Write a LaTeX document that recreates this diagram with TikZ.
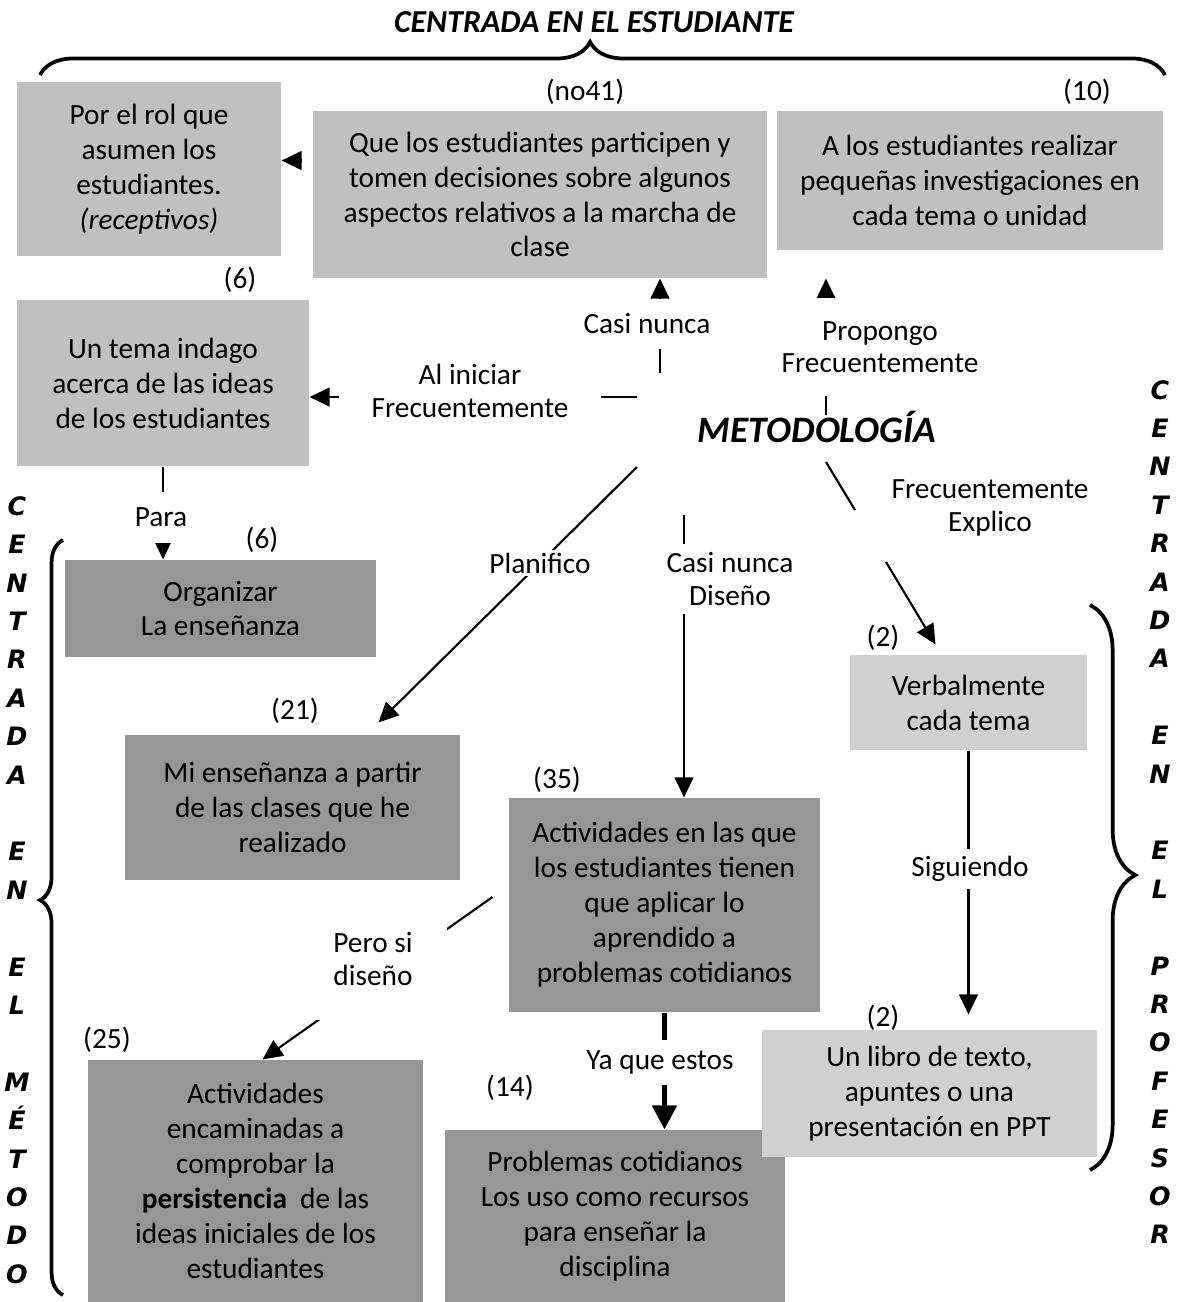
\documentclass[tikz,border=0pt]{standalone}
\usepackage{fontspec}
\setmainfont{Carlito}
\newfontfamily\vertfont{DejaVu Sans}
\usetikzlibrary{
  positioning,
  arrows.meta,
  decorations.pathreplacing}
\newdimen\pxu
\pxu=0.375pt
\definecolor{studentcolor}{RGB}{192,192,192}
\definecolor{methodcolor}{RGB}{150,150,150}
\definecolor{teachercolor}{RGB}{208,208,208}
\tikzset{
  %% box : a text box of the map
  box/.style={
    rectangle,
    inner sep=2pt,
    align=center,
    font=\fontsize{11}{13.1}\selectfont
  },
  %% studentbox : centred on the student
  studentbox/.style={box, fill=studentcolor},
  %% methodbox : centred on the method
  methodbox/.style={box, fill=methodcolor},
  %% teacherbox : centred on the teacher
  teacherbox/.style={box, fill=teachercolor},
  %% lbl : text on a connector, hides the line behind it
  lbl/.style={
    fill=white,
    inner sep=1pt,
    align=center,
    font=\fontsize{11}{12.2}\selectfont
  },
  %% tally : number of answers over a box
  tally/.style={inner sep=1pt, font=\fontsize{11}{13}\selectfont},
  %% conn : connector
  conn/.style={line width=0.8pt, -{Triangle[length=7.5pt,width=7pt]}},
  bigconn/.style={line width=1.9pt, -{Triangle[length=9pt,width=9pt]}},
  %% bigbrace : brace round a group, use as
  %%    \draw [bigbrace=amplitude] (start) -- (end);
  bigbrace/.style={
    decorate,
    decoration={brace, amplitude=#1},
    line width=1.4pt
  },
  %% vert : title written downwards
  vert/.style={
    align=center,
    font=\vertfont\fontsize{9.5}{14.4}\selectfont\bfseries\itshape
  }
}

\begin{document}
\begin{tikzpicture}
  [x=0.375pt,
  y=-0.375pt]
  \useasboundingbox (0,0) rectangle (1182,1302);

  %% Groups
  \node (estudiante) [font=\fontsize{12}{14}\selectfont\bfseries\itshape]
  at (594,22) {CENTRADA EN EL ESTUDIANTE};
  \draw [bigbrace=12.4pt, decoration={aspect=0.489}] (40,75) -- (1165,75);

  \node (metodo) [vert] at (17,890) {%
    C\\E\\N\\T\\R\\A\\D\\A\\~\\E\\N\\~\\E\\L\\~\\M\\É\\T\\O\\D\\O};
  \draw [bigbrace=8.6pt, decoration={aspect=0.523}] (63,1295) -- (63,540);

  \node (profesor) [vert] at (1160,812) {%
    C\\E\\N\\T\\R\\A\\D\\A\\~\\E\\N\\~\\E\\L\\~\\P\\R\\O\\F\\E\\S\\O\\R};
  \draw [bigbrace=17pt, decoration={aspect=0.478}] (1090,605) -- (1090,1170);

  %% Boxes
  \node (rol) [studentbox, minimum width=264\pxu, minimum height=174\pxu]
  at (149,169) {%
    Por el rol que\\ asumen los\\ estudiantes.\\ \textit{(receptivos)}};

  \node (quelos) [studentbox, minimum width=454\pxu, minimum height=167\pxu]
  at (540,194.5) {%
    Que los estudiantes participen y\\
    tomen decisiones sobre algunos\\
    aspectos relativos a la marcha de\\ clase};

  \node (alos) [studentbox, minimum width=386\pxu, minimum height=139\pxu]
  at (970,180.5) {%
    A los estudiantes realizar\\
    pequeñas investigaciones en\\ cada tema o unidad};

  \node (tema) [studentbox, minimum width=292\pxu, minimum height=166\pxu]
  at (163,383) {%
    Un tema indago\\ acerca de las ideas\\ de los estudiantes};

  \node (organ) [methodbox, minimum width=311\pxu, minimum height=97\pxu]
  at (220.5,608.5) {%
    Organizar\\ La enseñanza};

  \node (mien) [methodbox, minimum width=335\pxu, minimum height=145\pxu]
  at (292.5,807.5) {%
    Mi enseñanza a partir\\ de las clases que he\\ realizado};

  \node (act) [methodbox, minimum width=311\pxu, minimum height=214\pxu]
  at (664.5,905) {%
    Actividades en las que\\ los estudiantes tienen\\ que aplicar lo\\
    aprendido a\\ problemas cotidianos};

  \node (persis) [methodbox, minimum width=335\pxu, minimum height=242\pxu]
  at (255.5,1181) {%
    Actividades\\ encaminadas a\\ comprobar la\\
    \textbf{persistencia} \ de las\\ ideas iniciales de los\\ estudiantes};

  \node (probl) [methodbox, minimum width=340\pxu, minimum height=172\pxu]
  at (615,1216) {%
    Problemas cotidianos\\ Los uso como recursos\\ para enseñar la\\
    disciplina};

  \node (verb) [teacherbox, minimum width=237\pxu, minimum height=95\pxu]
  at (968.5,702.5) {%
    Verbalmente\\ cada tema};

  \node (libro) [teacherbox, minimum width=335\pxu, minimum height=127\pxu]
  at (929.5,1093.5) {%
    Un libro de texto,\\ apuntes o una\\ presentación en PPT};

  \node (metod) [font=\fontsize{14}{16}\selectfont\bfseries\itshape]
  at (817,427) {METODOLOGÍA};

  %% Number of answers
  \node (n41) [tally] at (585,92) {(no41)};
  \node (n10) [tally] at (1087,92) {(10)};
  \node (n6a) [tally] at (240,280) {(6)};
  \node (n6b) [tally] at (262,540) {(6)};
  \node (n21) [tally] at (295,711) {(21)};
  \node (n35) [tally] at (557,780) {(35)};
  \node (n2a) [tally] at (883,638) {(2)};
  \node (n2b) [tally] at (883,1018) {(2)};
  \node (n25) [tally] at (107,1040) {(25)};
  \node (n14) [tally] at (510,1088) {(14)};

  %% Connections from METODOLOGIA
  \coordinate (mleft) at (637,397);
  \coordinate (mtop) at (660,373);
  \coordinate (mright) at (826,415);
  \coordinate (mdownleft) at (637,467);
  \coordinate (mdown) at (684,515);
  \coordinate (mdownright) at (826,462);

  \draw [conn] (mleft) -- (mleft -| tema.east);
  \node (liniciar) [lbl, minimum width=262\pxu] at (470,391) {%
    Al iniciar\\ Frecuentemente};

  \draw [conn] (mtop) -- (mtop |- quelos.south);
  \node (lcasi) [lbl, minimum height=50\pxu] at (647,324) {Casi nunca};

  \draw [conn, shorten >=28\pxu] (mright) -- (mright |- alos.south);
  \node (lpropongo) [lbl, minimum height=98\pxu] at (880,347) {%
    Propongo\\ Frecuentemente};

  \draw [conn] (mdownleft) -- ([shift={(86,-12)}]mien.north);
  \node (lplanif) [lbl] at (540,563) {Planifico};

  \draw [conn] (mdown) -- (mdown |- act.north);
  \node (ldiseno) [lbl, minimum height=70\pxu] at (730,579) {%
    Casi nunca\\ Diseño};

  \coordinate (explicoa) at (855,510);
  \coordinate (explicob) at (886,562);
  \draw [line width=0.8pt] (mdownright) -- (explicoa);
  \draw [conn] (explicob) -- ([shift={(-33,-10)}]verb.north);
  \node (lexplico) [lbl] at (990,508) {%
    Frecuentemente\\ Explico};

  %% Other connections
  \coordinate (rolarrow) at ([shift={(-10,-34)}]quelos.west);
  \draw [conn] (rolarrow) -- (rolarrow -| rol.east);

  \draw [conn] (tema.south) -- (tema.south |- organ.north);
  \node (lpara) [lbl, minimum height=51\pxu] at (161,517) {Para};

  \draw [conn] ([shift={(-16,-8)}]act.west) -- ([shift={(7,0)}]persis.north);
  \node (lpero) [lbl, minimum width=148\pxu, minimum height=122\pxu]
  at (373,959) {Pero si\\ diseño};

  \draw [bigconn] (act.south) -- (act.south |- probl.north);
  \node (lyaque) [lbl, minimum height=45\pxu] at (660,1062) {Ya que estos};

  \draw [conn, shorten >=15\pxu] (verb.south) -- (verb.south |- libro.north);
  \node (lsig) [lbl, minimum height=40\pxu] at (970,869) {Siguiendo};

\end{tikzpicture}
\end{document}
